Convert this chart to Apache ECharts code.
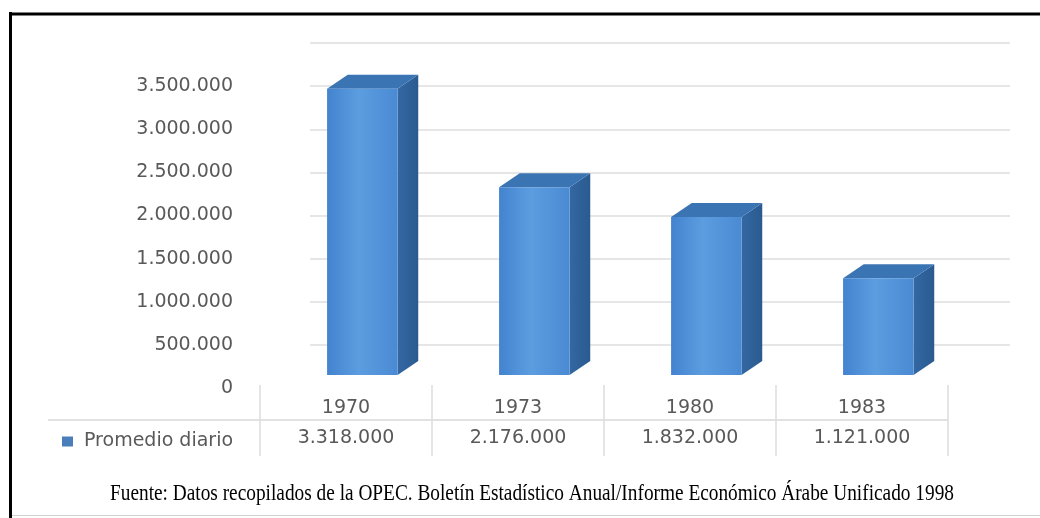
<!DOCTYPE html>
<html>
<head>
<meta charset="utf-8">
<script src="https://cdn.jsdelivr.net/npm/echarts@6/dist/echarts.min.js"></script>
<style>
  html, body { margin: 0; padding: 0; background: #fff; }
  #chart { width: 1040px; height: 518px; }
</style>
</head>
<body>
<div id="chart"></div>
<script>
// datos
const years = ['1970', '1973', '1980', '1983']
const promedio = [3318000, 2176000, 1832000, 1121000]
const serieName = 'Promedio diario'
const yMin = 0
const yMax = 4000000
const yStep = 500000
const fuente = 'Fuente: Datos recopilados de la OPEC. Boletín Estadístico Anual/Informe Económico Árabe Unificado 1998'

// 3.318.000 con puntos
function fmt(n) {
  return String(Math.round(n)).replace(/\B(?=(\d{3})+(?!\d))/g, '.')
}

const grey = '#595959'
const font = 'DejaVu Sans'

// barra 3D: cara frontal, lateral y superior
function renderBar(params, api) {
  const x = api.value(0)
  const v = api.value(1)
  const top = api.coord([x, v])
  const base = api.coord([x, 0])
  const band = api.size([1, 0])[0]
  const lift = 13
  const fl = top[0] - band * 0.11
  const fr = fl + band * 0.41
  const ft = top[1] - lift
  const fb = base[1] - lift
  const dx = band * 0.12
  const dy = 14
  return {
    type: 'group',
    children: [
      {
        type: 'polygon',
        shape: { points: [[fr, ft], [fr + dx, ft - dy], [fr + dx, fb - dy], [fr, fb]] },
        style: {
          fill: new echarts.graphic.LinearGradient(0, 0, 1, 0, [
            { offset: 0, color: '#3468a3' },
            { offset: 1, color: '#2a5a8f' },
          ]),
        },
      },
      {
        type: 'polygon',
        shape: { points: [[fl, ft], [fl + dx, ft - dy], [fr + dx, ft - dy], [fr, ft]] },
        style: { fill: '#3b74b3' },
      },
      {
        type: 'rect',
        shape: { x: fl, y: ft, width: fr - fl, height: fb - ft },
        style: {
          fill: new echarts.graphic.LinearGradient(0, 0, 1, 0, [
            { offset: 0, color: '#4383cf' },
            { offset: 0.45, color: '#5c9de0' },
            { offset: 1, color: '#4a8ad3' },
          ]),
        },
      },
    ],
  }
}

const chart = echarts.init(document.getElementById('chart'))

const option = {
  backgroundColor: '#fff',
  animation: false,
  legend: {
    data: [serieName],
    left: 57,
    top: 427,
    icon: 'rect',
    itemWidth: 11,
    itemHeight: 10,
    textStyle: { color: grey, fontFamily: font, fontSize: 19, padding: [0, 0, 0, 6] },
  },
  grid: [
    // area de barras y tabla
    { left: 260, right: 92, top: 43, bottom: 130 },
    // pared del fondo (lineas de cuadricula)
    { left: 310, right: 30, top: 43, bottom: 130 },
    // celdas de la tabla
    { left: 260, right: 92, top: 385, bottom: 62 },
  ],
  xAxis: [
    {
      gridIndex: 0,
      type: 'category',
      data: years,
      axisLine: { show: false },
      axisTick: { show: false },
      axisLabel: {
        margin: 5,
        interval: 0,
        formatter: (val, idx) => `{y|${val}}\n{v|${fmt(promedio[idx])}}`,
        rich: {
          y: { color: grey, fontFamily: font, fontSize: 19, lineHeight: 30 },
          v: { color: grey, fontFamily: font, fontSize: 19, lineHeight: 30 },
        },
      },
    },
    { gridIndex: 1, type: 'value', show: false },
    {
      gridIndex: 2,
      type: 'category',
      data: years,
      axisLine: { show: false },
      axisTick: { show: false },
      axisLabel: { show: false },
      splitLine: { show: true, interval: 0, lineStyle: { color: '#dcdcdc', width: 1.5 } },
    },
  ],
  yAxis: [
    {
      gridIndex: 0,
      type: 'value',
      min: yMin,
      max: yMax,
      interval: yStep,
      axisLine: { show: false },
      axisTick: { show: false },
      splitLine: { show: false },
      axisLabel: {
        margin: 27,
        showMaxLabel: false,
        color: grey,
        fontFamily: font,
        fontSize: 19,
        formatter: v => fmt(v),
      },
    },
    {
      gridIndex: 1,
      type: 'value',
      min: yMin,
      max: yMax,
      interval: yStep,
      axisLine: { show: false },
      axisTick: { show: false },
      axisLabel: { show: false },
      splitLine: { show: true, showMinLine: false, lineStyle: { color: '#dedede', width: 1.5 } },
    },
    { gridIndex: 2, type: 'value', show: false },
  ],
  series: [
    {
      name: serieName,
      type: 'custom',
      xAxisIndex: 0,
      yAxisIndex: 0,
      itemStyle: { color: '#4a7ebb' },
      renderItem: renderBar,
      encode: { x: 0, y: 1 },
      data: years.map((y, i) => [i, promedio[i]]),
      z: 5,
    },
  ],
  graphic: [
    // linea de la tabla
    { type: 'line', shape: { x1: 48, y1: 420, x2: 948, y2: 420 }, style: { stroke: '#d9d9d9', lineWidth: 1.5 } },
    // marco
    { type: 'line', shape: { x1: 10.5, y1: 12, x2: 10.5, y2: 518 }, style: { stroke: '#000', lineWidth: 3 } },
    { type: 'line', shape: { x1: 9, y1: 14, x2: 1040, y2: 14 }, style: { stroke: '#000', lineWidth: 3 } },
    { type: 'line', shape: { x1: 12, y1: 515.5, x2: 1040, y2: 515.5 }, style: { stroke: '#d0d0d0', lineWidth: 1 } },
    {
      type: 'text',
      x: 110,
      y: 482,
      scaleX: 0.84,
      style: { text: fuente, fill: '#000', fontFamily: 'Liberation Serif', fontSize: 23 },
    },
  ],
}

chart.setOption(option)
</script>
</body>
</html>
